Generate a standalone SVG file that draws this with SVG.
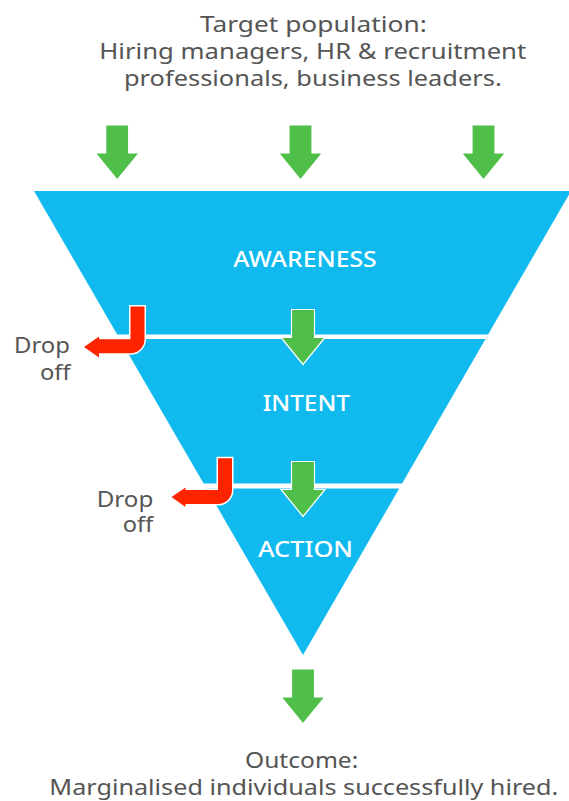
<svg xmlns="http://www.w3.org/2000/svg" width="569" height="801" viewBox="0 0 569 801">
<style>
.t{font-family:"Noto Sans","DejaVu Sans",sans-serif;font-size:21px;fill:#555555;}
.l{font-family:"Noto Sans","DejaVu Sans",sans-serif;font-size:22px;fill:#ffffff;font-weight:500;}
.band{fill:#10BAEE;}
.g{fill:#50BF4A;stroke:#ffffff;stroke-width:1.2;}
.rw{fill:none;stroke:#ffffff;stroke-width:17;}
.r{fill:none;stroke:#FF2400;stroke-width:14;}
.rh{fill:#FF2400;}
</style>
<defs>
<path id="garrow" d="M-11.5,0 H11.5 V28 H22 L0,55 L-22,28 H-11.5 Z"/>
</defs>
<rect width="569" height="801" fill="#ffffff"/>

<g id="target-text">
<text class="t" x="200" y="31.5" textLength="226.7" lengthAdjust="spacingAndGlyphs">Target population:</text>
<text class="t" x="99.3" y="59" textLength="427" lengthAdjust="spacingAndGlyphs">Hiring managers, HR &amp; recruitment</text>
<text class="t" x="124" y="86" textLength="377.7" lengthAdjust="spacingAndGlyphs">professionals, business leaders.</text>
</g>

<g id="awareness">
<polygon class="band" points="34,191 571,191 488.1,334.5 117.2,334.5"/>
<text class="l" x="233.3" y="266.7" textLength="143.4" lengthAdjust="spacingAndGlyphs">AWARENESS</text>
</g>
<g id="intent">
<polygon class="band" points="119.8,339 485.5,339 402.1,483.5 203.6,483.5"/>
<text class="l" x="262.7" y="411" textLength="87.3" lengthAdjust="spacingAndGlyphs">INTENT</text>
</g>
<g id="action">
<polygon class="band" points="206.5,488.5 399.2,488.5 303,655"/>
<text class="l" x="258" y="557" textLength="95" lengthAdjust="spacingAndGlyphs">ACTION</text>
</g>

<g id="dropoff-1">
<text class="t" x="14" y="353.3" textLength="56" lengthAdjust="spacingAndGlyphs">Drop</text>
<text class="t" x="40" y="380" textLength="30.7" lengthAdjust="spacingAndGlyphs">off</text>
</g>
<g id="dropoff-2">
<text class="t" x="96.7" y="506.7" textLength="56.6" lengthAdjust="spacingAndGlyphs">Drop</text>
<text class="t" x="122.7" y="531.7" textLength="30.6" lengthAdjust="spacingAndGlyphs">off</text>
</g>

<g id="outcome-text">
<text class="t" x="245" y="768.3" textLength="113.3" lengthAdjust="spacingAndGlyphs">Outcome:</text>
<text class="t" x="49.3" y="795" textLength="509" lengthAdjust="spacingAndGlyphs">Marginalised individuals successfully hired.</text>
</g>

<g id="connectors">
<use href="#garrow" class="g" x="117.2" y="125"/>
<use href="#garrow" class="g" x="300.5" y="125"/>
<use href="#garrow" class="g" x="483.5" y="125"/>
<use href="#garrow" class="g" x="303" y="309.5"/>
<use href="#garrow" class="g" x="303" y="461.5"/>
<use href="#garrow" class="g" x="303" y="669"/>

<path class="rw" d="M137.5,305 V339.3 A7,7 0 0 1 130.5,346.3 H97"/>
<path class="r" d="M137.5,306.5 V339.3 A7,7 0 0 1 130.5,346.3 H97"/>
<polygon class="rh" points="99,336.5 99,357.5 84,347"/>

<path class="rw" d="M225,456.8 V490 A7,7 0 0 1 218,497 H184"/>
<path class="r" d="M225,458.3 V490 A7,7 0 0 1 218,497 H184"/>
<polygon class="rh" points="185.5,487.5 185.5,507 171.5,497"/>
</g>
</svg>
